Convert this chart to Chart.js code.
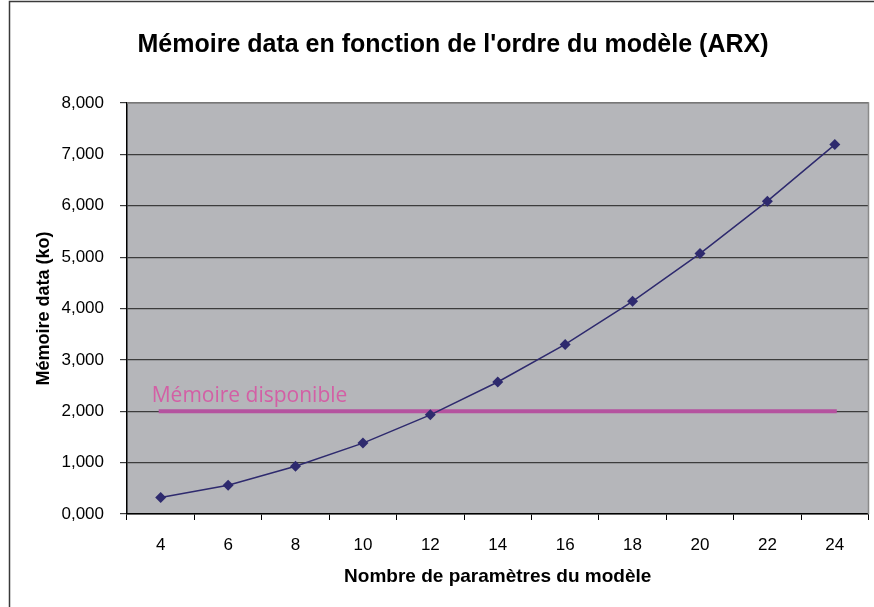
<!DOCTYPE html>
<html>
<head>
<meta charset="utf-8">
<title>Mémoire data en fonction de l'ordre du modèle (ARX)</title>
<script src="https://cdn.jsdelivr.net/npm/chart.js@4/dist/chart.umd.min.js"></script>
<style>
  html, body { margin: 0; padding: 0; background: #fff; }
  #wrap { position: relative; width: 874px; height: 607px; }
</style>
</head>
<body>
<div id="wrap"><canvas id="memChart"></canvas></div>
<script>
// number of model parameters
const ordres = ['4', '6', '8', '10', '12', '14', '16', '18', '20', '22', '24'];
// data memory in ko
const memoire = [0.32, 0.56, 0.93, 1.38, 1.93, 2.57, 3.30, 4.14, 5.07, 6.09, 7.19];
// available memory limit
const memoireDispo = [2, 2, 2, 2, 2, 2, 2, 2, 2, 2, 2];
const yTicks = [0, 1, 2, 3, 4, 5, 6, 7, 8];

const titre = "Mémoire data en fonction de l'ordre du modèle (ARX)";
const labelDispo = 'Mémoire disponible';

/* gray plot background, outer frame, title and limit label */
const decor = {
  id: 'decor',
  beforeDraw(chart) {
    const { ctx, chartArea: a } = chart;
    ctx.save();
    ctx.fillStyle = '#b5b6ba';
    ctx.fillRect(a.left, a.top, a.right - a.left, a.bottom - a.top);
    ctx.strokeStyle = '#3a3a3a';
    ctx.lineWidth = 1.5;
    ctx.strokeRect(9.5, 1.5, 900, 700);
    ctx.fillStyle = '#000';
    ctx.font = 'bold 25px "Liberation Sans", Arial, sans-serif';
    ctx.textAlign = 'center';
    ctx.textBaseline = 'alphabetic';
    ctx.fillText(titre, 453, 52);
    ctx.restore();
  },
  beforeDatasetsDraw(chart) {
    const { ctx, chartArea: a } = chart;
    ctx.save();
    ctx.strokeStyle = '#8a8a8a';
    ctx.lineWidth = 1.5;
    ctx.beginPath();
    ctx.moveTo(a.left, a.top);
    ctx.lineTo(a.right, a.top);
    ctx.lineTo(a.right, a.bottom);
    ctx.stroke();
    ctx.restore();
  },
  afterDatasetsDraw(chart) {
    const { ctx, scales } = chart;
    const x = scales.x.getPixelForValue(0) - 9;
    const y = scales.y.getPixelForValue(memoireDispo[0]) - 9;
    ctx.save();
    ctx.fillStyle = '#d35fa5';
    ctx.font = '21px "Open Sans", "Noto Sans", sans-serif';
    ctx.textAlign = 'left';
    ctx.textBaseline = 'alphabetic';
    ctx.fillText(labelDispo, x, y);
    ctx.restore();
  }
};

new Chart(document.getElementById('memChart'), {
  type: 'line',
  data: {
    labels: ordres,
    datasets: [
      {
        label: 'Mémoire data',
        data: memoire,
        borderColor: '#2e2a6e',
        backgroundColor: '#2e2a6e',
        borderWidth: 1.5,
        pointStyle: 'rectRot',
        pointRadius: 5.5,
        pointBorderWidth: 0,
        tension: 0,
        order: 0
      },
      {
        label: labelDispo,
        data: memoireDispo,
        borderColor: '#b5529f',
        borderWidth: 4,
        pointRadius: 0,
        borderCapStyle: 'square',
        order: 1
      }
    ]
  },
  options: {
    responsive: true,
    maintainAspectRatio: false,
    animation: false,
    events: [],
    layout: { padding: { left: 29, right: 4, top: 103, bottom: 10 } },
    plugins: {
      legend: { display: false },
      tooltip: { enabled: false }
    },
    scales: {
      x: {
        offset: true,
        afterFit(scale) { scale.height = 83; },
        grid: {
          offset: true,
          drawOnChartArea: false,
          drawTicks: true,
          tickLength: 6,
          color: '#000'
        },
        border: { color: '#000', width: 1.5 },
        ticks: {
          color: '#000',
          padding: 15,
          font: { family: '"Liberation Sans", Arial, sans-serif', size: 17 }
        },
        title: {
          display: true,
          text: 'Nombre de paramètres du modèle',
          color: '#000',
          padding: { top: 4, bottom: 9 },
          font: { family: '"Liberation Sans", Arial, sans-serif', size: 19, weight: 'bold' }
        }
      },
      y: {
        min: 0,
        max: 8,
        afterFit(scale) { scale.width = 98; },
        afterBuildTicks(scale) { scale.ticks = yTicks.map(v => ({ value: v })); },
        grid: {
          color: '#3c3c3c',
          lineWidth: 1.2,
          tickLength: 7
        },
        border: { color: '#000', width: 1.5 },
        ticks: {
          color: '#000',
          padding: 16,
          font: { family: '"Liberation Sans", Arial, sans-serif', size: 17 },
          callback: v => v.toFixed(3).replace('.', ',')
        },
        title: {
          display: true,
          text: 'Mémoire data (ko)',
          color: '#000',
          padding: 4,
          font: { family: '"Liberation Sans", Arial, sans-serif', size: 18, weight: 'bold' }
        }
      }
    }
  },
  plugins: [decor]
});
</script>
</body>
</html>
